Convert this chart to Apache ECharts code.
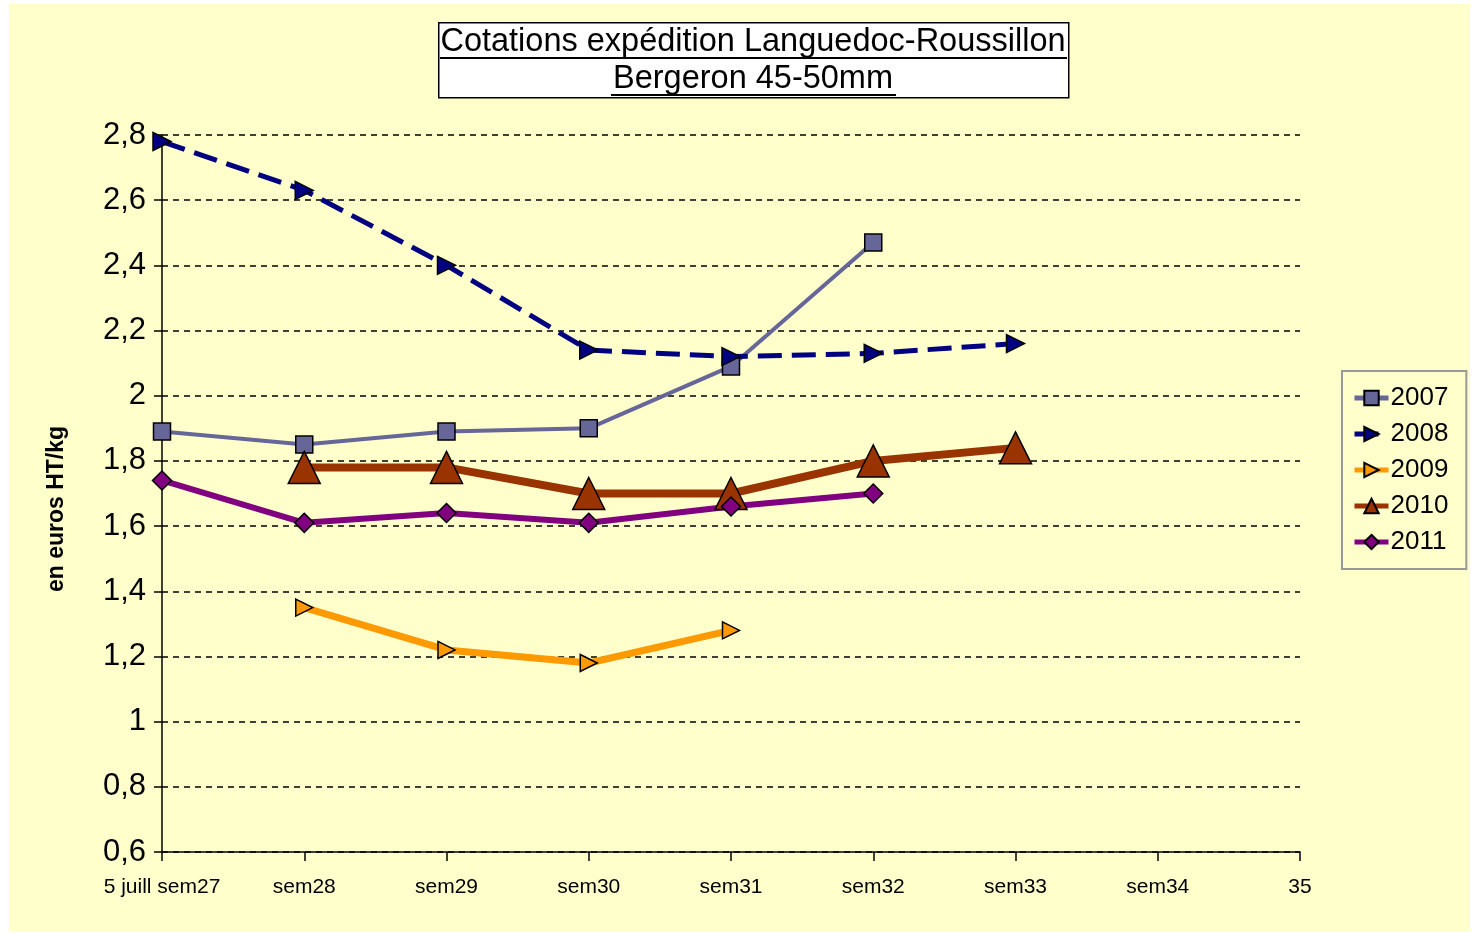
<!DOCTYPE html>
<html>
<head>
<meta charset="utf-8">
<script src="https://cdn.jsdelivr.net/npm/echarts@6/dist/echarts.min.js"></script>
<style>
  html, body { margin: 0; padding: 0; background: #fff; }
  #chart { position: absolute; left: 9px; top: 4px; width: 1461px; height: 927px; }
</style>
</head>
<body>
<div id="chart"></div>
<script>
// semaines
var weeks = ['5 juill sem27', 'sem28', 'sem29', 'sem30', 'sem31', 'sem32', 'sem33', 'sem34', '35'];

// cotations en euros HT/kg
var s2007 = [1.89, 1.85, 1.89, 1.90, 2.09, 2.47, null, null, null];
var s2008 = [2.78, 2.63, 2.40, 2.14, 2.12, 2.13, 2.16, null, null];
var s2009 = [null, 1.35, 1.22, 1.18, 1.28, null, null, null, null];
var s2010 = [null, 1.78, 1.78, 1.70, 1.70, 1.80, 1.84, null, null];
var s2011 = [1.74, 1.61, 1.64, 1.61, 1.66, 1.70, null, null, null];

var years = ['2007', '2008', '2009', '2010', '2011'];

var yMin = 0.6, yMax = 2.8, yStep = 0.2;

var font = 'Liberation Sans, Arial, sans-serif';
var rightTri = 'path://M0,0 L10,5 L0,10 Z';

var myChart = echarts.init(document.getElementById('chart'));

var mkSeries = function(name, data, color, width, symbol, size, dashed) {
  return {
    name: name,
    type: 'line',
    data: data,
    symbol: symbol,
    symbolSize: size,
    showAllSymbol: true,
    lineStyle: { color: color, width: width, type: dashed ? [24, 10] : 'solid' },
    itemStyle: { color: color, borderColor: '#000', borderWidth: 1.5 },
    emphasis: { disabled: true },
    animation: false
  };
};

var option = {
  backgroundColor: '#FFFFCC',
  textStyle: { fontFamily: font },
  grid: { left: 153, right: 170, top: 131, bottom: 79 },
  graphic: [
    //titre encadré
    { type: 'rect', left: 429, top: 18, shape: { width: 630, height: 75 },
      style: { fill: '#fff', stroke: '#000', lineWidth: 1.5 } },
    { type: 'text', style: { x: 744, y: 38, align: 'center', verticalAlign: 'middle',
      text: 'Cotations expédition Languedoc-Roussillon', font: '32.5px ' + font, fill: '#000' } },
    { type: 'line', shape: { x1: 431, y1: 54, x2: 1058, y2: 54 }, style: { stroke: '#000', lineWidth: 2 } },
    { type: 'text', style: { x: 744, y: 75, align: 'center', verticalAlign: 'middle',
      text: 'Bergeron 45-50mm', font: '32.5px ' + font, fill: '#000' } },
    { type: 'line', shape: { x1: 602, y1: 91, x2: 887, y2: 91 }, style: { stroke: '#000', lineWidth: 2 } },
    //titre de l'axe
    { type: 'text', x: 48, y: 505, rotation: Math.PI / 2,
      style: { x: 0, y: 0, align: 'center', verticalAlign: 'middle',
        text: 'en euros HT/kg', font: 'bold 23px ' + font, fill: '#000' } }
  ],
  legend: {
    orient: 'vertical',
    left: 1333,
    top: 367,
    width: 124,
    padding: [14, 18, 14, 10],
    itemGap: 10,
    itemWidth: 34,
    itemHeight: 18,
    borderColor: '#999',
    borderWidth: 2,
    backgroundColor: '#FFFFCC',
    textStyle: { fontSize: 26, color: '#000', fontFamily: font, padding: [0, 0, 0, -3] },
    data: years.map(function(y) { return { name: y, lineStyle: { width: 5 } }; })
  },
  xAxis: {
    type: 'category',
    boundaryGap: false,
    data: weeks,
    axisLine: { lineStyle: { color: '#000', width: 1.5 } },
    axisTick: { show: true, length: 9, alignWithLabel: true, interval: 0, lineStyle: { color: '#000', width: 1.5 } },
    axisLabel: { interval: 0, fontSize: 21, color: '#000', margin: 25, fontFamily: font }
  },
  yAxis: {
    type: 'value',
    min: yMin,
    max: yMax,
    interval: yStep,
    axisLine: { show: true, lineStyle: { color: '#000', width: 1.5 } },
    axisTick: { show: true, length: 8, lineStyle: { color: '#000', width: 1.5 } },
    axisLabel: {
      fontSize: 31, color: '#000', margin: 16, fontFamily: font,
      formatter: function(v) { return (Math.round(v * 10) / 10).toString().replace('.', ','); }
    },
    splitLine: { show: true, lineStyle: { color: '#000', width: 1.5, type: [6, 5] } }
  },
  series: [
    mkSeries(years[0], s2007, '#666699', 4, 'rect', 17, false),
    mkSeries(years[1], s2008, '#000080', 5, rightTri, 18, true),
    mkSeries(years[2], s2009, '#FF9900', 7, rightTri, 17, false),
    mkSeries(years[3], s2010, '#993300', 8, 'triangle', 32, false),
    mkSeries(years[4], s2011, '#800080', 6, 'diamond', 19, false)
  ]
};

myChart.setOption(option);
</script>
</body>
</html>
